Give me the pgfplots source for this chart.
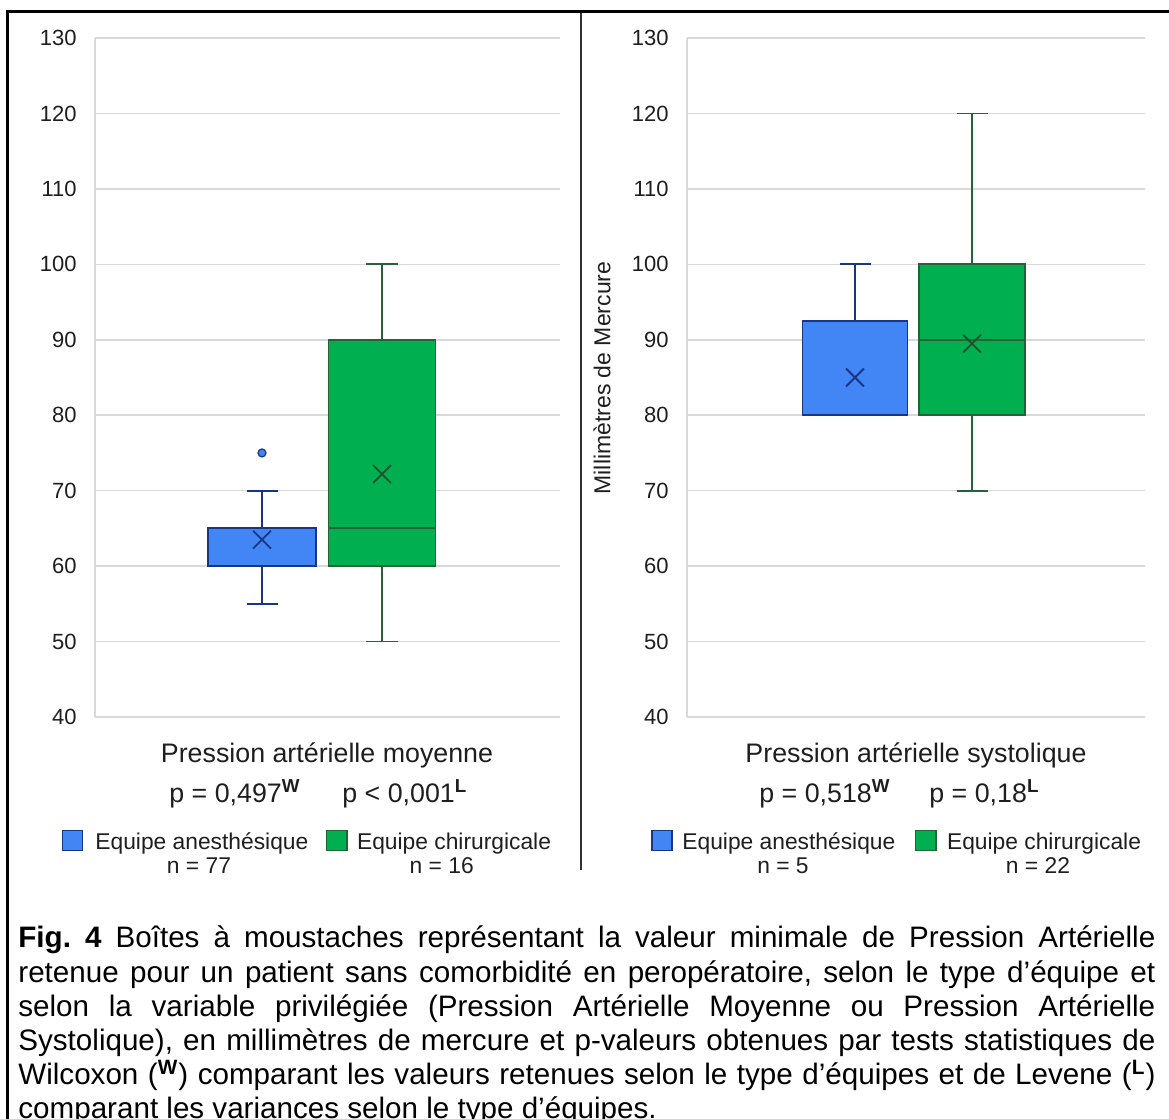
\documentclass[border=0pt]{standalone}
\usepackage{fontspec}
\setmainfont{Liberation Sans}
\usepackage{pgfplots}
\pgfplotsset{compat=1.18}
\usepgfplotslibrary{statistics}
\definecolor{bfill}{RGB}{66,133,244}
\definecolor{bedge}{RGB}{24,54,130}
\definecolor{gfill}{RGB}{0,176,80}
\definecolor{gedge}{RGB}{35,100,55}
\definecolor{gmean}{RGB}{30,80,45}
\definecolor{gridc}{RGB}{217,217,217}
\definecolor{txt}{RGB}{30,30,30}
\pgfplotsset{panel/.style={
  anchor=south west, scale only axis, height=339.5pt,
  ymin=40, ymax=130, ytick={40,50,...,130},
  axis x line=none, axis y line*=left,
  y axis line style={draw=gridc, line width=0.75pt},
  ymajorgrids, grid style={draw=gridc, line width=0.75pt},
  major tick length=0pt,
  yticklabel style={font=\fontsize{11}{12}\selectfont, text=txt, inner sep=0pt, xshift=-9pt},
  /pgf/number format/assume math mode=true,
  boxplot/draw direction=y,
  clip=false,
}}
\begin{document}
\begin{tikzpicture}
\path[use as bounding box] (0pt,0pt) rectangle (584.5pt,559.5pt);
% frame and divider
\draw[line width=1.5pt] (3.75pt,-2pt) -- (3.75pt,553.75pt) -- (590pt,553.75pt);
\draw[line width=1pt, black!80] (290.25pt,553pt) -- (290.25pt,124.5pt);

% ---------- left panel ----------
\begin{axis}[panel, at={(47.5pt,201pt)}, width=232.5pt, xmin=0, xmax=465]
\addplot[draw=bedge, fill=bfill, line width=0.9pt, boxplot prepared={draw position=167, lower whisker=55, lower quartile=60, median=60, upper quartile=65, upper whisker=70, box extend=108, whisker extend=31}] coordinates {};
\addplot[draw=gedge, fill=gfill, line width=0.9pt, boxplot prepared={draw position=287, lower whisker=50, lower quartile=60, median=65, upper quartile=90, upper whisker=100, box extend=107, whisker extend=32}] coordinates {};
\addplot[only marks, mark=x, mark size=6.3pt, mark options={draw=bedge, line width=0.9pt}] coordinates {(167,63.5)};
\addplot[only marks, mark=x, mark size=6.3pt, mark options={draw=gmean, line width=0.9pt}] coordinates {(287,72.2)};
\addplot[only marks, mark=*, mark size=2pt, mark options={draw=bedge, fill=bfill, line width=0.6pt}] coordinates {(167,75)};
\end{axis}

% ---------- right panel ----------
\begin{axis}[panel, at={(343.5pt,201pt)}, width=229pt, xmin=0, xmax=458]
\addplot[draw=bedge, fill=bfill, line width=0.9pt, boxplot prepared={draw position=168, lower whisker=80, lower quartile=80, median=80, upper quartile=92.5, upper whisker=100, box extend=105, whisker extend=31}] coordinates {};
\addplot[draw=gedge, fill=gfill, line width=0.9pt, boxplot prepared={draw position=285, lower whisker=70, lower quartile=80, median=90, upper quartile=100, upper whisker=120, box extend=106, whisker extend=31}] coordinates {};
\addplot[only marks, mark=x, mark size=6.3pt, mark options={draw=bedge, line width=0.9pt}] coordinates {(168,85)};
\addplot[only marks, mark=x, mark size=6.3pt, mark options={draw=gmean, line width=0.9pt}] coordinates {(285,89.5)};
\end{axis}

\node[rotate=90, text=txt, font=\fontsize{11.5}{13}\selectfont, inner sep=0pt] at (301pt,370.5pt) {Millimètres de Mercure};

% titles and p-values
\begin{scope}[every node/.style={inner sep=0pt, text=txt}]
\node[anchor=base, font=\fontsize{13.4}{16}\selectfont] at (163.5pt,178pt) {Pression artérielle moyenne};
\node[anchor=base, font=\fontsize{13.4}{16}\selectfont] at (458pt,178pt) {Pression artérielle systolique};
\node[anchor=base west, font=\fontsize{13.4}{16}\selectfont] at (84.5pt,158pt) {p = 0,497\textsuperscript{\textbf{W}}};
\node[anchor=base west, font=\fontsize{13.4}{16}\selectfont] at (171pt,158pt) {p < 0,001\textsuperscript{\textbf{L}}};
\node[anchor=base west, font=\fontsize{13.4}{16}\selectfont] at (379.5pt,158pt) {p = 0,518\textsuperscript{\textbf{W}}};
\node[anchor=base west, font=\fontsize{13.4}{16}\selectfont] at (464.5pt,158pt) {p = 0,18\textsuperscript{\textbf{L}}};
% legends
\draw[draw=bedge, fill=bfill, line width=0.7pt] (31.35pt,134.15pt) rectangle (41.35pt,144.15pt);
\node[anchor=base west, font=\fontsize{11.4}{13}\selectfont] at (47.5pt,134.5pt) {Equipe anesthésique};
\draw[draw=gedge, fill=gfill, line width=0.7pt] (163.35pt,134.15pt) rectangle (173.5pt,144.15pt);
\node[anchor=base west, font=\fontsize{11.4}{13}\selectfont] at (178.35pt,134.5pt) {Equipe chirurgicale};
\node[anchor=base, font=\fontsize{11.4}{13}\selectfont] at (99.5pt,122.5pt) {n = 77};
\node[anchor=base, font=\fontsize{11.4}{13}\selectfont] at (220.85pt,122.5pt) {n = 16};
\draw[draw=bedge, fill=bfill, line width=0.7pt] (326pt,134.15pt) rectangle (336pt,144.15pt);
\node[anchor=base west, font=\fontsize{11.4}{13}\selectfont] at (341pt,134.5pt) {Equipe anesthésique};
\draw[draw=gedge, fill=gfill, line width=0.7pt] (457.85pt,134.15pt) rectangle (468pt,144.15pt);
\node[anchor=base west, font=\fontsize{11.4}{13}\selectfont] at (473.35pt,134.5pt) {Equipe chirurgicale};
\node[anchor=base, font=\fontsize{11.4}{13}\selectfont] at (391.5pt,122.5pt) {n = 5};
\node[anchor=base, font=\fontsize{11.4}{13}\selectfont] at (519pt,122.5pt) {n = 22};
% caption
\node[anchor=base west, text=black, text width=568.5pt, align=justify, font=\fontsize{14.8}{17.1}\selectfont] at (9pt,85.5pt) {\frenchspacing\hyphenpenalty=10000\textbf{Fig.~4} Boîtes à moustaches représentant la valeur minimale de Pression Artérielle\linebreak retenue pour un patient sans comorbidité en peropératoire, selon le type d’équipe et\linebreak selon la variable privilégiée (Pression Artérielle Moyenne ou Pression Artérielle\linebreak Systolique), en millimètres de mercure et p-valeurs obtenues par tests statistiques de\linebreak Wilcoxon (\textsuperscript{\textbf{W}}) comparant les valeurs retenues selon le type d’équipes et de Levene (\textsuperscript{\textbf{L}})\linebreak comparant les variances selon le type d’équipes.};
\end{scope}
\end{tikzpicture}
\end{document}
